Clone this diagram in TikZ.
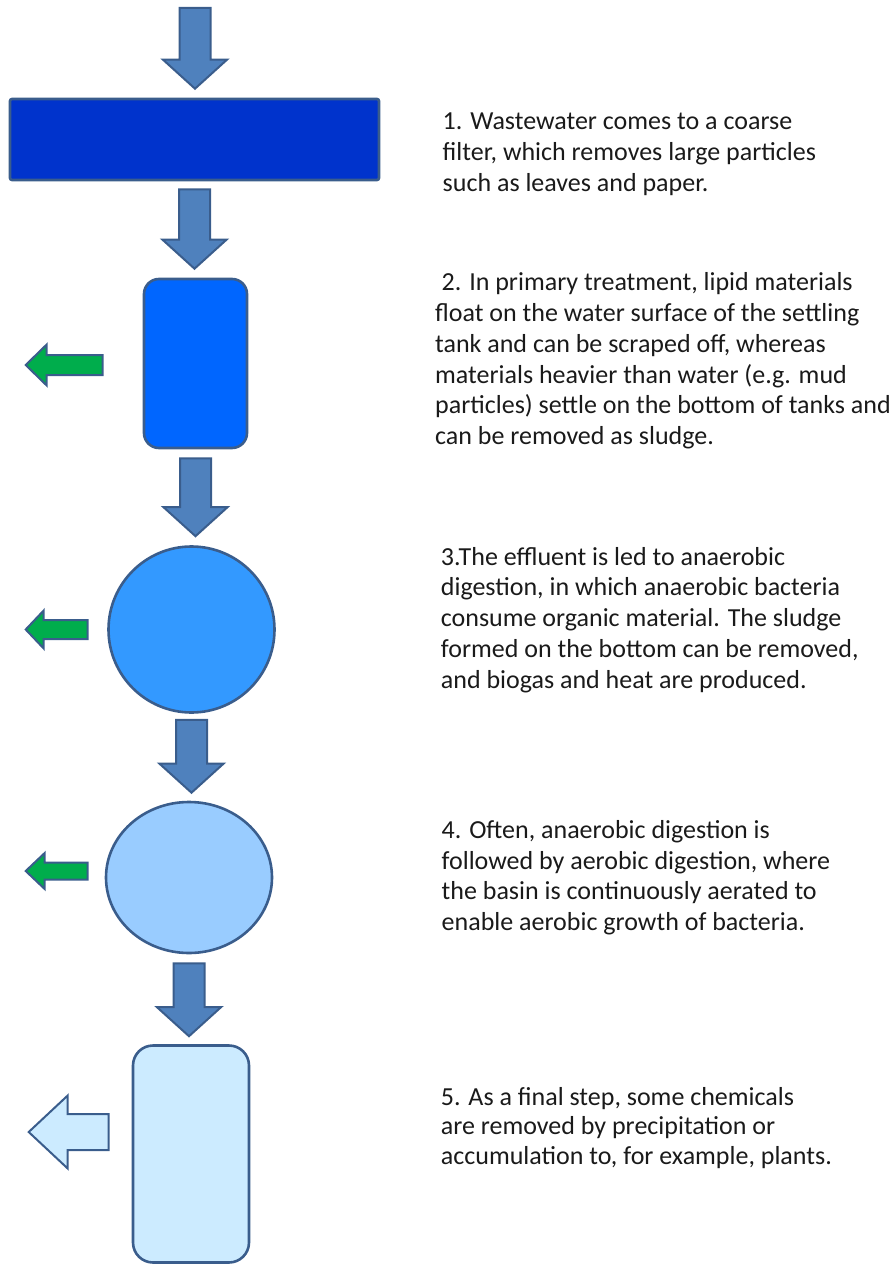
\documentclass[tikz,border=0pt]{standalone}
\usepackage{fontspec}
\setmainfont{Carlito}
\usetikzlibrary{calc,shapes.geometric}

\definecolor{arrowfill}{HTML}{4F81BD}
\definecolor{edge}{HTML}{3A5D8C}
\definecolor{filterblue}{HTML}{0033CC}
\definecolor{tankblue}{HTML}{0066FF}
\definecolor{anaerobic}{HTML}{3399FF}
\definecolor{aerobic}{HTML}{99CCFF}
\definecolor{finalblue}{HTML}{CCEBFF}
\definecolor{outgreen}{HTML}{00AD4C}
\definecolor{ink}{HTML}{1A1A1A}

\tikzset{
  stage/.style={draw=edge, line width=2.6pt},
  % broad arrow pointing down, drawn between two points
  blockdown/.style={draw=edge, fill=arrowfill, line width=2pt, line join=miter,
    to path={let \p1=(\tikztostart), \p2=(\tikztotarget) in
      (\x1-15.5pt,\y1) -- (\x1+15.5pt,\y1) -- (\x1+15.5pt,\y2+29pt)
      -- (\x1+32pt,\y2+29pt) -- (\x1,\y2) -- (\x1-32pt,\y2+29pt)
      -- (\x1-15.5pt,\y2+29pt) -- cycle}},
  % broad arrow pointing left: shaft half width, head half width, head length
  blockleft/.style n args={3}{draw=edge, line width=2pt, line join=miter,
    to path={let \p1=(\tikztostart), \p2=(\tikztotarget) in
      (\x1,\y1+#1) -- (\x2+#3,\y1+#1) -- (\x2+#3,\y1+#2) -- (\x2,\y1)
      -- (\x2+#3,\y1-#2) -- (\x2+#3,\y1-#1) -- (\x1,\y1-#1) -- cycle}},
  % text blocks are placed by the baseline of their last line
  note/.style={anchor=base west, inner sep=0pt, align=left, text=ink}
}

\begin{document}
\begin{tikzpicture}[x=1pt,y=-1pt]
\useasboundingbox (0,0) rectangle (894,1265);

% treatment stages
\node[stage, fill=filterblue, rectangle, rounded corners=2pt,
      minimum width=369pt, minimum height=81pt] (filter) at (194.5,139.5) {};
\node[stage, fill=tankblue, rectangle, rounded corners=15pt,
      minimum width=103pt, minimum height=169pt] (tank) at (195.5,363.5) {};
\node[stage, fill=anaerobic, circle, minimum size=166pt, inner sep=0pt] (anaer) at (191.5,629.5) {};
\node[stage, fill=aerobic, ellipse, minimum width=166pt, minimum height=151pt, inner sep=0pt] (aer) at (189,877.5) {};
\node[stage, fill=finalblue, rectangle, rounded corners=20pt,
      minimum width=116pt, minimum height=217pt] (final) at (191,1154) {};

\coordinate (inlet) at (195,8);

% flow between stages
\path[blockdown] (inlet) to ([yshift=9pt]filter.north);
\path[blockdown] ([yshift=-8pt]filter.south) to ([yshift=9pt]tank.north);
\path[blockdown] ([yshift=-9pt]tank.south) to ([yshift=9pt]anaer.north);
\path[blockdown] ([yshift=-6pt]anaer.south) to ([yshift=8pt]aer.north);
\path[blockdown] ([yshift=-9pt]aer.south) to ([yshift=8pt]final.north);

% material removed at each stage
\path[blockleft={10pt}{20.5pt}{21pt}, fill=outgreen]
  ([xshift=-40pt,yshift=-1.5pt]tank.west) to ([xshift=-117pt,yshift=-1.5pt]tank.west);
\path[blockleft={9.5pt}{19pt}{18pt}, fill=outgreen]
  ([xshift=-19.5pt]anaer.west) to ([xshift=-81.5pt]anaer.west);
\path[blockleft={8.5pt}{18pt}{19pt}, fill=outgreen]
  ([xshift=-17pt,yshift=6.5pt]aer.west) to ([xshift=-79pt,yshift=6.5pt]aer.west);
\path[blockleft={18pt}{36.5pt}{39pt}, fill=finalblue]
  ([xshift=-23pt,yshift=22pt]final.west) to ([xshift=-103pt,yshift=22pt]final.west);

% descriptions
\begin{scope}[font=\fontsize{26}{30.8}\selectfont]
\node[note] (t1) at (442.5,191.6) {1. Wastewater comes to a coarse\\
  filter, which removes large particles\\
  such as leaves and paper.};
\node[note] (t2) at (435,444.7) {\hspace*{6.5pt}2. In primary treatment, lipid materials\\
  float on the water surface of the settling\\
  tank and can be scraped off, whereas\\
  materials heavier than water (e.g. mud\\
  particles) settle on the bottom of tanks and\\
  can be removed as sludge.};
\node[note] (t3) at (440.7,688.2) {3.The effluent is led to anaerobic\\
  digestion, in which anaerobic bacteria\\
  consume organic material. The sludge\\
  formed on the bottom can be removed,\\
  and biogas and heat are produced.};
\node[note] (t4) at (441.5,930.7) {4. Often, anaerobic digestion is\\
  followed by aerobic digestion, where\\
  the basin is continuously aerated to\\
  enable aerobic growth of bacteria.};
\node[note, font=\fontsize{26}{29.6}\selectfont] (t5) at (440.7,1164.2) {5. As a final step, some chemicals\\
  are removed by precipitation or\\
  accumulation to, for example, plants.};
\end{scope}
\end{tikzpicture}
\end{document}
